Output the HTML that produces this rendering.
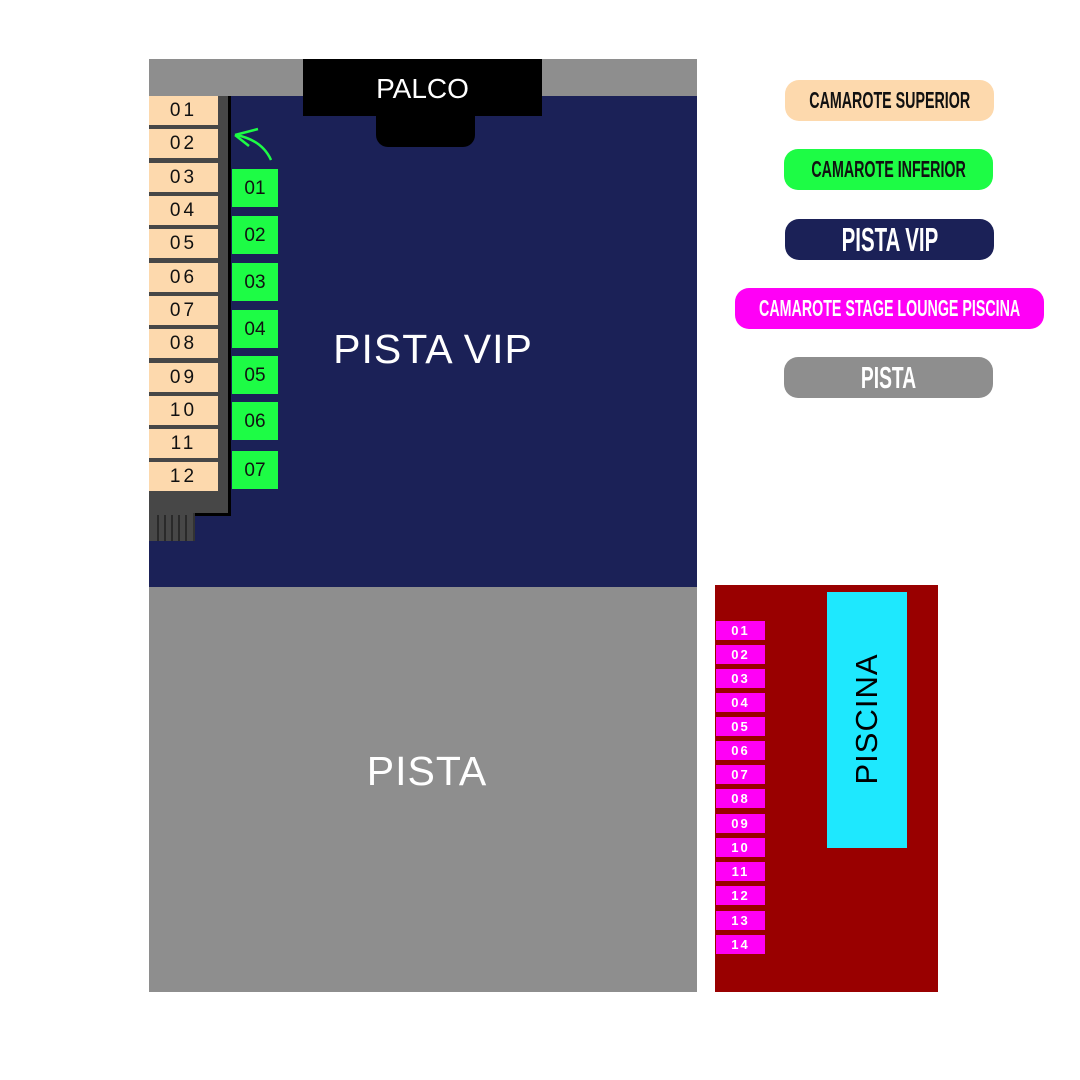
<!DOCTYPE html>
<html><head><meta charset="utf-8"><style>
body{margin:0;width:1080px;height:1080px;background:#fff;position:relative;overflow:hidden;font-family:"Liberation Sans",sans-serif}
div{position:absolute;box-sizing:border-box}
.b{left:149px;width:69px;height:29px;background:#fdd9ad;color:#111;font-size:19px;text-align:center;line-height:30px;letter-spacing:3px}
.g{left:232px;width:46px;height:38px;background:#1dfc45;color:#111;font-size:19px;text-align:center;line-height:40px}
.m{left:716px;width:49px;height:19px;background:#ff00f6;color:#fff;font-size:13px;font-weight:bold;text-align:center;line-height:20px;letter-spacing:2px}
.p{border-radius:14px;height:41px;display:flex;justify-content:center;align-items:center;font-weight:bold;white-space:nowrap}
.p span{display:inline-block;transform:scaleX(0.62);flex:none}
</style></head><body>
<div style="left:149px;top:59px;width:548px;height:37px;background:#8e8e8e"></div>
<div style="left:149px;top:96px;width:548px;height:491px;background:#1b2157"></div>
<div style="left:149px;top:587px;width:548px;height:405px;background:#8e8e8e"></div>
<div style="left:303px;top:59px;width:239px;height:57px;background:#000"></div>
<div style="left:376px;top:100px;width:99px;height:47px;background:#000;border-radius:0 0 12px 12px"></div>
<div style="left:303px;top:73px;width:239px;text-align:center;color:#fff;font-size:28px">PALCO</div>
<div style="left:149px;top:96px;width:82px;height:420px;background:#000"></div>
<div style="left:149px;top:96px;width:79px;height:417px;background:#474747"></div>
<div style="left:149px;top:513px;width:46px;height:28px;background:#474747;border-right:2px solid #333"></div>
<div style="left:157px;top:515px;width:2px;height:26px;background:#2a2a2a"></div>
<div style="left:164px;top:515px;width:2px;height:26px;background:#2a2a2a"></div>
<div style="left:171px;top:515px;width:2px;height:26px;background:#2a2a2a"></div>
<div style="left:178px;top:515px;width:2px;height:26px;background:#2a2a2a"></div>
<div style="left:185px;top:515px;width:2px;height:26px;background:#2a2a2a"></div>
<div class="b" style="top:96px">01</div>
<div class="b" style="top:129px">02</div>
<div class="b" style="top:163px">03</div>
<div class="b" style="top:196px">04</div>
<div class="b" style="top:229px">05</div>
<div class="b" style="top:263px">06</div>
<div class="b" style="top:296px">07</div>
<div class="b" style="top:329px">08</div>
<div class="b" style="top:363px">09</div>
<div class="b" style="top:396px">10</div>
<div class="b" style="top:429px">11</div>
<div class="b" style="top:462px">12</div>
<div class="g" style="top:169px">01</div>
<div class="g" style="top:216px">02</div>
<div class="g" style="top:263px">03</div>
<div class="g" style="top:310px">04</div>
<div class="g" style="top:356px">05</div>
<div class="g" style="top:402px">06</div>
<div class="g" style="top:451px">07</div>
<svg style="position:absolute;left:0;top:0" width="1080" height="1080">
<path d="M271 160 Q262 140 236 135" stroke="#1dfc45" stroke-width="2.5" fill="none"/>
<path d="M235 135 L258 129 M235 135 L249 146" stroke="#1dfc45" stroke-width="2.5" fill="none"/>
</svg>
<div style="left:149px;top:326px;width:568px;text-align:center;color:#fff;font-size:41px;letter-spacing:1px">PISTA VIP</div>
<div style="left:149px;top:748px;width:556px;text-align:center;color:#fff;font-size:41px;letter-spacing:1px">PISTA</div>
<div style="left:715px;top:585px;width:223px;height:407px;background:#990000"></div>
<div style="left:827px;top:592px;width:80px;height:256px;background:#1ee8fe"></div>
<div style="left:767px;top:701px;width:200px;text-align:center;font-size:31px;letter-spacing:1px;color:#000;transform:rotate(-90deg)">PISCINA</div>
<div class="m" style="top:621px">01</div>
<div class="m" style="top:645px">02</div>
<div class="m" style="top:669px">03</div>
<div class="m" style="top:693px">04</div>
<div class="m" style="top:717px">05</div>
<div class="m" style="top:741px">06</div>
<div class="m" style="top:765px">07</div>
<div class="m" style="top:789px">08</div>
<div class="m" style="top:814px">09</div>
<div class="m" style="top:838px">10</div>
<div class="m" style="top:862px">11</div>
<div class="m" style="top:886px">12</div>
<div class="m" style="top:911px">13</div>
<div class="m" style="top:935px">14</div>
<div class="p" style="left:785px;top:80px;width:209px;background:#fdd9ad;color:#111;font-size:23px"><span>CAMAROTE SUPERIOR</span></div>
<div class="p" style="left:784px;top:149px;width:209px;background:#1dfc45;color:#111;font-size:23px"><span>CAMAROTE INFERIOR</span></div>
<div class="p" style="left:785px;top:219px;width:209px;background:#1b2157;color:#fff;font-size:33px"><span>PISTA VIP</span></div>
<div class="p" style="left:735px;top:288px;width:309px;background:#ff00f6;color:#fff;font-size:23px"><span>CAMAROTE STAGE LOUNGE PISCINA</span></div>
<div class="p" style="left:784px;top:357px;width:209px;background:#8e8e8e;color:#fff;font-size:31px"><span>PISTA</span></div>
</body></html>
